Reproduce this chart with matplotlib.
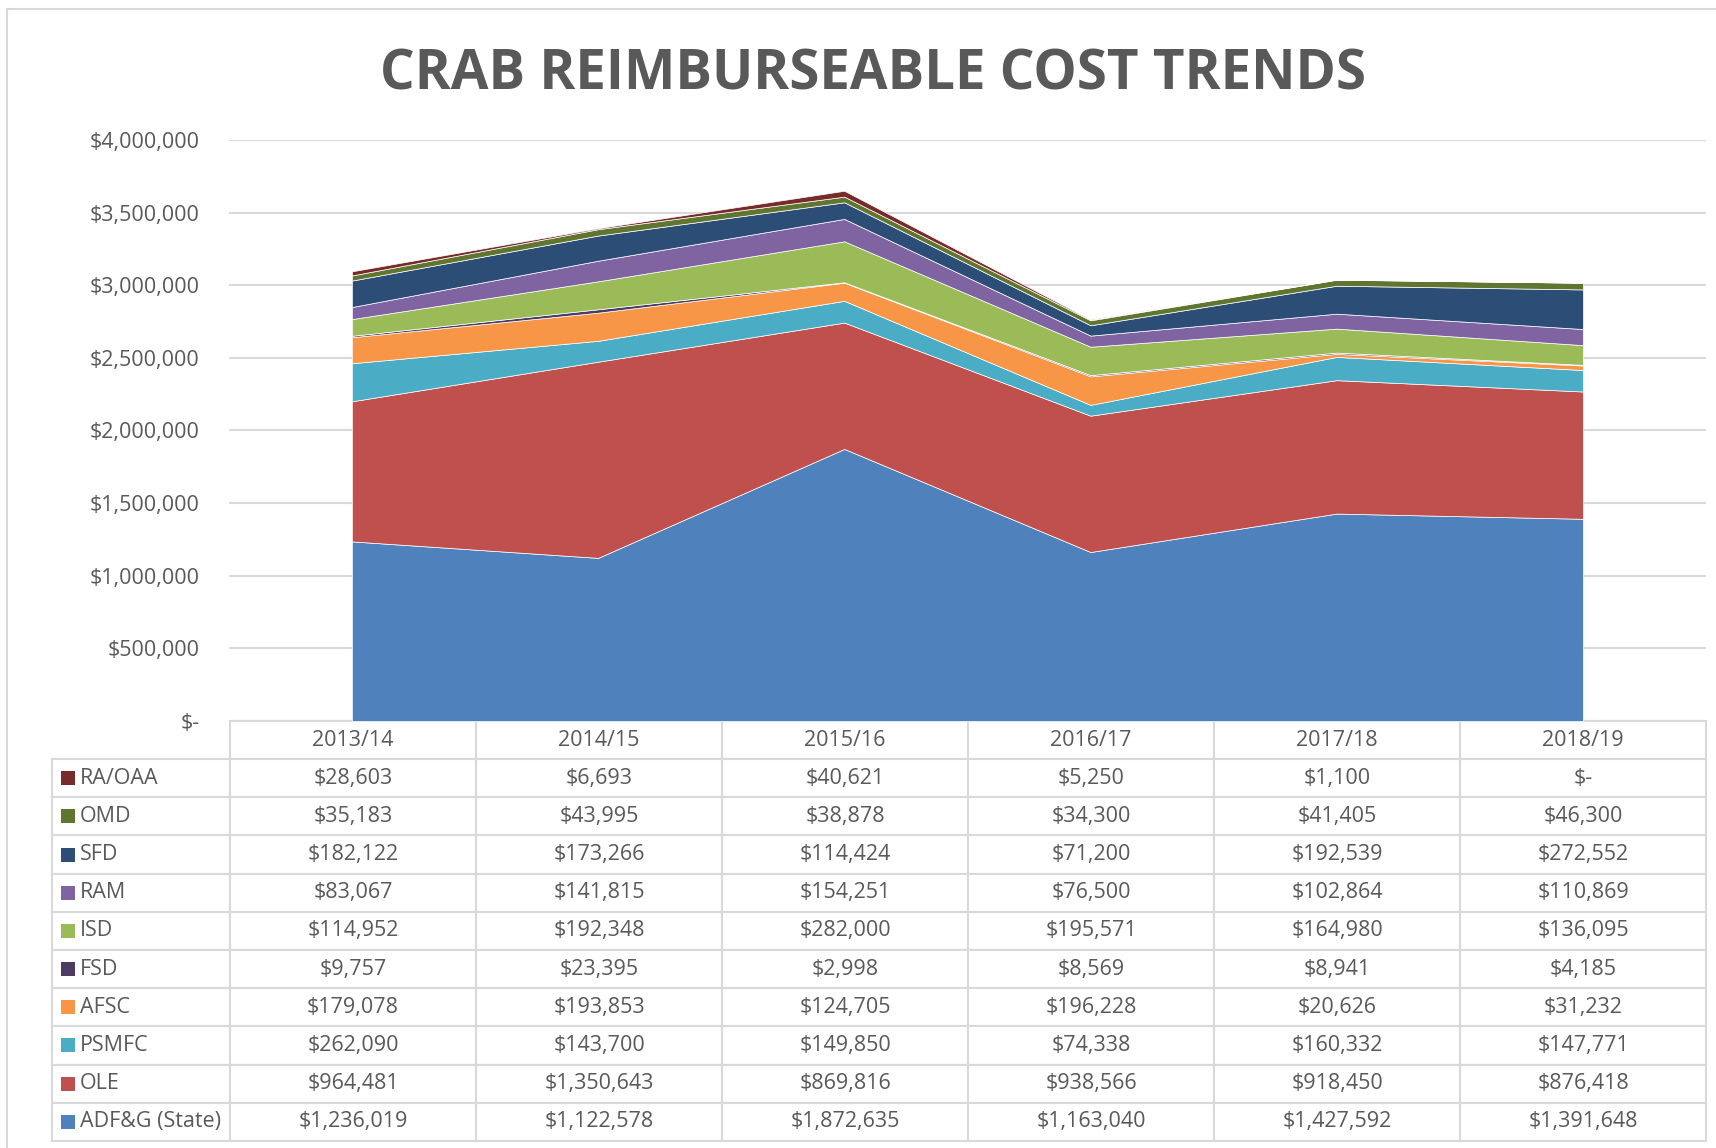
import numpy as np
import matplotlib.pyplot as plt
from matplotlib.patches import Rectangle
from matplotlib.ticker import FuncFormatter, MultipleLocator

plt.rcParams['font.family'] = ['Open Sans', 'DejaVu Sans']

years = ['2013/14', '2014/15', '2015/16', '2016/17', '2017/18', '2018/19']

# stack order, bottom to top
agencies = ['ADF&G (State)', 'OLE', 'PSMFC', 'AFSC', 'FSD', 'ISD', 'RAM', 'SFD', 'OMD', 'RA/OAA']
adfg = [1236019, 1122578, 1872635, 1163040, 1427592, 1391648]
ole = [964481, 1350643, 869816, 938566, 918450, 876418]
psmfc = [262090, 143700, 149850, 74338, 160332, 147771]
afsc = [179078, 193853, 124705, 196228, 20626, 31232]
fsd = [9757, 23395, 2998, 8569, 8941, 4185]
isd = [114952, 192348, 282000, 195571, 164980, 136095]
ram = [83067, 141815, 154251, 76500, 102864, 110869]
sfd = [182122, 173266, 114424, 71200, 192539, 272552]
omd = [35183, 43995, 38878, 34300, 41405, 46300]
ra_oaa = [28603, 6693, 40621, 5250, 1100, 0]

series = [adfg, ole, psmfc, afsc, fsd, isd, ram, sfd, omd, ra_oaa]
colors = ['#4F81BD', '#C0504D', '#4BACC6', '#F79646', '#4D3B62',
          '#9BBB59', '#8064A2', '#2C4D75', '#5F7530', '#772C2A']

grey = '#595959'
grid_c = '#D9D9D9'

def money(v):
    return '$-' if v == 0 else '${:,.0f}'.format(v)

fig = plt.figure(figsize=(17.16, 11.48), dpi=100)
ax = fig.add_axes([0.1333, 0.3720, 0.8609, 0.5061])

x = np.arange(len(years))
ax.stackplot(x, series, colors=colors, edgecolor='white', linewidth=0.5, zorder=2)

ax.set_xlim(-0.5, len(years) - 0.5)
ax.set_ylim(0, 4000000)
ax.yaxis.set_major_locator(MultipleLocator(500000))
ax.yaxis.set_major_formatter(FuncFormatter(lambda v, p: money(v)))
ax.grid(axis='y', color=grid_c, lw=1.5, zorder=0)
ax.set_axisbelow(True)
ax.set_xticks([])
ax.tick_params(axis='y', length=0, pad=21, labelsize=15.5, labelcolor=grey)
for s in ax.spines.values():
    s.set_visible(False)

# data table under the chart
rows = []
for name, vals in zip(agencies[::-1], series[::-1]):
    rows.append([name] + [money(v) for v in vals])

lab_w = 178.0
col_w = 246.0
tot_w = lab_w + col_w * len(years)
x0 = -0.1196
tw = 1.1196
th = 0.7229
tbl = ax.table(cellText=rows, colLabels=[''] + years, cellLoc='center',
               colWidths=[lab_w / tot_w] + [col_w / tot_w] * len(years),
               bbox=[x0, -th, tw, th])
tbl.auto_set_font_size(False)
tbl.set_fontsize(15.5)
for (r, c), cell in tbl.get_celld().items():
    cell.set_edgecolor(grid_c)
    cell.set_linewidth(1.5)
    cell.set_facecolor('white')
    cell.get_text().set_color(grey)
    if r == 0 and c == 0:
        cell.visible_edges = 'open'
    if c == 0 and r > 0:
        cell._loc = 'left'
        cell.PAD = 0.157
        cell.get_text().set_ha('left')

# colour keys next to agency names
row_h = th / (len(rows) + 1)
sq_w = 14 / 1477.3
sq_h = 14 / 581.0
for i, name in enumerate(agencies[::-1]):
    cy = -(i + 1.5) * row_h
    ax.add_patch(Rectangle((-0.1135, cy - sq_h / 2), sq_w, sq_h,
                           transform=ax.transAxes, clip_on=False,
                           facecolor=colors[::-1][i], edgecolor='none'))

fig.text(0.5087, 1 - 90 / 1148, 'CRAB REIMBURSEABLE COST TRENDS',
         ha='center', va='baseline', fontsize=39.3, fontweight='bold', color=grey)

fig.patches.append(Rectangle((7 / 1716, -0.05), 1.2, 1 - 9 / 1148 + 0.05,
                             transform=fig.transFigure, fill=False,
                             edgecolor=grid_c, lw=1.5))

fig.savefig('out.png', dpi=100)
